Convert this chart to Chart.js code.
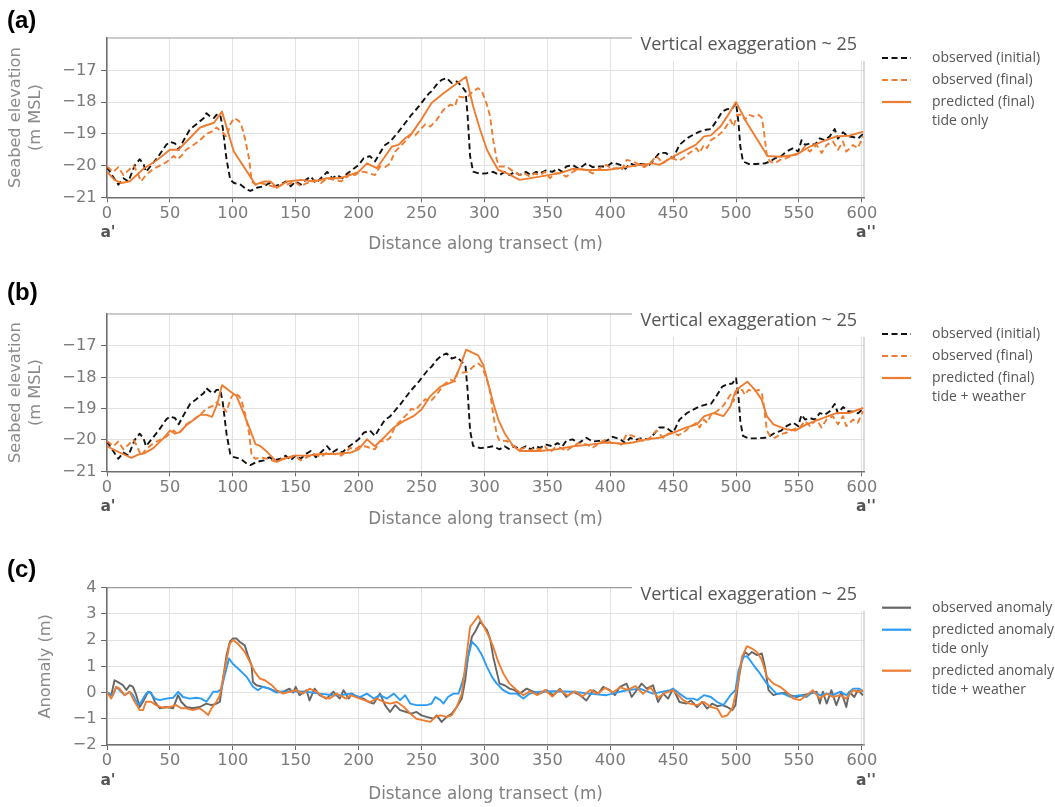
<!DOCTYPE html>
<html>
<head>
<meta charset="utf-8">
<script src="https://cdn.jsdelivr.net/npm/chart.js@4"></script>
<style>
  html, body { margin: 0; padding: 0; background: #fff; }
  #wrap { position: relative; width: 1055px; height: 807px; overflow: hidden; background: #fff; }
  canvas { position: absolute; left: 0; }
</style>
</head>
<body>
<div id="wrap">
  <canvas id="panelA" width="1055" height="275" style="top:0px"></canvas>
  <canvas id="panelB" width="1055" height="275" style="top:275px"></canvas>
  <canvas id="panelC" width="1055" height="257" style="top:550px"></canvas>
</div>
<script>
// ---------- axis ticks ----------
const distTicks = [0, 50, 100, 150, 200, 250, 300, 350, 400, 450, 500, 550, 600];
const elevTicks = [-21, -20, -19, -18, -17];
const anomTicks = [-2, -1, 0, 1, 2, 3, 4];

// ---------- seabed elevation profiles (m MSL) ----------
// observed (initial)
const obsInitX = [0,4,9,13,17,22,26,29,31,35,41,47,50,54,57,61,66,71,77,79,82,85,87,90,92,95,98,101,106,111,114,119,125,129,133,138,142,146,150,154,158,162,166,170,175,179,183,187,191,196,
  200,204,209,213,217,221,225,229,233,237,242,248,253,256,258,262,266,270,274,278,282,285,286.5,288.6,291,296.6,302,307,312,316,320,324,328,333,337,341,344,349,354,358,362,365,370,375,381,386,391,397,
  402,408,412,416,420,424,431,435,439,444,450,455,461,466,471,476,480,485,489,493,497,500,502,503.4,505.5,510,516,523,527,531,536,540,545.5,549.5,552,555,558.7,562.6,566.6,570.5,574.5,578.4,581,585,589,593,597,601];
const obsInitY = [-20.05,-20.3,-20.6,-20.4,-20.5,-20.0,-19.8,-19.95,-20.2,-20.0,-19.7,-19.35,-19.25,-19.3,-19.5,-19.2,-18.85,-18.7,-18.5,-18.35,-18.45,-18.5,-18.4,-18.4,-18.8,-19.8,-20.45,-20.55,-20.6,-20.75,-20.8,-20.7,-20.65,-20.55,-20.65,-20.6,-20.5,-20.65,-20.5,-20.6,-20.45,-20.35,-20.55,-20.4,-20.2,-20.4,-20.3,-20.4,-20.25,-20.1,
  -19.98,-19.77,-19.7,-19.87,-19.6,-19.35,-19.25,-19.06,-18.87,-18.66,-18.4,-18.13,-17.87,-17.72,-17.66,-17.45,-17.3,-17.24,-17.4,-17.35,-17.5,-17.66,-18.35,-19.7,-20.19,-20.26,-20.24,-20.2,-20.3,-20.2,-20.3,-20.2,-20.3,-20.2,-20.3,-20.2,-20.25,-20.15,-20.2,-20.1,-20.2,-20.03,-19.98,-20.1,-19.93,-20.05,-20.03,-20.03,
  -19.9,-19.98,-20.1,-19.93,-20.0,-19.95,-19.98,-19.8,-19.6,-19.6,-19.77,-19.35,-19.14,-19.03,-18.93,-18.87,-18.85,-18.56,-18.3,-18.22,-18.2,-18.03,-18.66,-19.4,-19.87,-19.95,-19.95,-19.93,-19.87,-19.77,-19.7,-19.56,-19.45,-19.56,-19.2,-19.35,-19.3,-19.35,-19.14,-19.2,-19.08,-18.85,-19.15,-18.95,-19.08,-19.1,-19.15,-19.0];

// observed (final)
const obsFinalX = [0,5,9,13,17,21,24,27,31,37,42,47,50,53,56,59,63,67,74,79,85,87,90,93,95,98,101,105,107,110,113,115,118,122,127,131,135,139,143,149,154,159,165,170,175,181,186,191,193,197,
  201,205,209,213,217,221,225,229,233,238,242,245,249,253,257,262,267.5,273,276.7,279,283,287,291,295,298,302,304.5,307,309.8,312,317.7,323,328,332,336,340,344,348,352,356,360,365,370.6,375,381,386,391.8,397,
  401,405,409,413,418,423.5,427,431.5,436.8,442,446,450,454,458,463,468.5,471,474.5,477,480,485,490,495.5,498,500.8,504.7,507,510,514,518,520.5,522,524.5,527,531,535,540,545.5,550.8,554.7,558.7,564,568,572,577,581,585,587.6,593,596.8,601];
const obsFinalY = [-20.03,-20.2,-20.05,-20.3,-20.15,-20.0,-20.2,-20.5,-20.3,-20.1,-20.0,-19.9,-19.8,-19.7,-19.8,-19.7,-19.5,-19.4,-19.2,-19.0,-18.9,-18.8,-18.9,-19.0,-19.1,-18.7,-18.5,-18.6,-18.75,-19.2,-19.8,-20.5,-20.6,-20.55,-20.6,-20.65,-20.7,-20.6,-20.6,-20.5,-20.65,-20.55,-20.45,-20.55,-20.4,-20.45,-20.5,-20.35,-20.25,-20.3,
  -20.2,-20.2,-20.25,-20.3,-20.03,-20.05,-19.93,-19.56,-19.4,-19.2,-19.0,-19.05,-18.87,-18.7,-18.77,-18.56,-18.24,-18.08,-18.13,-17.82,-17.85,-17.82,-17.66,-17.56,-17.66,-18.08,-18.45,-19.2,-19.82,-20.03,-20.03,-20.19,-20.3,-20.25,-20.35,-20.25,-20.3,-20.2,-20.4,-20.25,-20.24,-20.35,-20.19,-20.1,-20.14,-20.25,-20.08,-19.98,
  -20.1,-20.08,-20.15,-19.82,-19.87,-19.98,-20.05,-19.93,-19.7,-19.93,-19.8,-19.77,-19.85,-19.77,-19.6,-19.45,-19.6,-19.35,-19.45,-19.2,-19.08,-18.9,-18.56,-18.77,-18.4,-18.4,-18.56,-18.4,-18.45,-18.4,-18.5,-18.87,-19.7,-19.87,-19.93,-19.82,-19.77,-19.66,-19.6,-19.4,-19.56,-19.35,-19.6,-19.35,-19.24,-19.5,-19.24,-19.56,-19.35,-19.45,-19.08];

// predicted (final), tide only
const predTideX = [0,6,11.5,18,29,39,50,57,63,74,85,91.4,100.7,118,125,130,135,143,154,165,175,185,193,200,206.6,214.5,220,226.5,231.7,237,242,249,258,267.5,276.7,285.4,291,296.6,302,307,311,317.7,328,344,360,370.6,381,397,413,423.5,434,439,450,460.6,468,474.5,480,487.6,493,500,508.7,525,535,548,558.7,569,579.7,590,601];
const predTideY = [-20.2,-20.45,-20.55,-20.5,-20.1,-19.85,-19.5,-19.5,-19.25,-18.8,-18.65,-18.3,-19.55,-20.6,-20.5,-20.5,-20.7,-20.5,-20.45,-20.5,-20.4,-20.4,-20.3,-20.2,-19.93,-20.08,-19.77,-19.4,-19.35,-19.14,-19.0,-18.6,-18.03,-17.72,-17.45,-17.2,-18.13,-18.87,-19.5,-19.87,-20.14,-20.24,-20.45,-20.35,-20.24,-20.1,-20.14,-20.14,-20.05,-19.98,-19.93,-19.98,-19.72,-19.5,-19.35,-19.08,-19.05,-18.77,-18.45,-18.0,-18.66,-19.7,-19.72,-19.66,-19.4,-19.24,-19.08,-19.06,-18.93];

// predicted (final), tide + weather
const predWeatherX = [0,5,10,19.4,24.8,30,36.8,44.8,50,54,58,63,74,79,83.4,87.4,91.4,98,103,108.7,114,118,122,127,135,140.6,148.6,159,170,180.6,194,200,206.6,213,220,228,235.7,243.6,250,257,265,275.4,280.7,285.4,295,299,303,307,311,316.5,323,328,344,357,370.6,384,397,410,418,429,439,450,460.6,469,474.5,482,490,495.5,499.5,503.4,509,515,520.5,524.5,529.7,540,547,556,569,579.7,590,601];
const predWeatherY = [-20.2,-20.3,-20.4,-20.57,-20.47,-20.42,-20.26,-19.95,-19.7,-19.8,-19.75,-19.53,-19.2,-19.2,-19.26,-18.88,-18.25,-18.45,-18.6,-19.15,-19.7,-20.13,-20.2,-20.37,-20.7,-20.6,-20.5,-20.5,-20.45,-20.45,-20.4,-20.3,-19.98,-20.2,-19.93,-19.6,-19.4,-19.24,-19.03,-18.6,-18.3,-18.14,-17.66,-17.12,-17.3,-17.6,-18.2,-18.82,-19.35,-19.82,-20.2,-20.35,-20.35,-20.3,-20.2,-20.15,-20.08,-20.12,-20.08,-19.98,-19.93,-19.77,-19.6,-19.5,-19.25,-19.14,-19.24,-18.93,-18.45,-18.3,-18.14,-18.4,-18.72,-19.24,-19.5,-19.66,-19.7,-19.5,-19.3,-19.14,-19.14,-18.98];

// ---------- anomalies (m) ----------
const anomObsX = [0,3.4,6,8.8,12.7,15.4,18,20.7,23.3,26,28.6,32.6,35,38,42,47,52.5,56.5,59,63,68,73.7,79,83,87,89.7,92.3,95,97.6,100,103,105.6,109.5,112,114.9,116,118.8,124,129,134.7,140,145,148,150,153,158.6,161,165,169,174.5,180,185,188,192,194.7,198.7,
  204,208,212,217,221,225,229,233,238,242,246,250,254,259.5,262,266,270,274,278,282,284.7,287,290,292.6,296.6,299,302,304.5,307,309.8,312,316,320,324,328,333.6,339,344,349.5,354.8,360,365,370.6,376,381,386.5,390.5,394.4,399.7,403.7,407.7,
  413,417,421,425,429,434,438,442,446,450,455,460.6,464,469,473,477,481,485,489,493,497,499.5,502,504.7,507,510,512.6,516.6,520.5,523,525.8,529.7,533.7,539,543,548,553,558.7,564,566.6,569,572,575.8,579.7,583.7,587.6,590,594,596.8,601];
const anomObsY = [0,-0.1,0.47,0.4,0.28,0.1,0.28,0.22,-0.1,-0.55,-0.35,0.03,0,-0.35,-0.6,-0.55,-0.6,-0.1,-0.35,-0.55,-0.6,-0.55,-0.42,-0.48,-0.42,-0.35,0.53,1.42,1.93,2.06,2.06,1.93,1.8,1.42,1.04,0.4,0.28,0.22,0.15,0.03,0.03,0.15,0,0.22,-0.1,0.09,-0.3,0.15,-0.1,-0.23,0.03,-0.23,0.09,-0.23,-0.04,-0.17,
  -0.23,-0.36,-0.42,-0.04,-0.48,-0.74,-0.48,-0.67,-0.74,-0.8,-0.74,-0.87,-0.93,-1.0,-0.87,-1.12,-0.93,-0.8,-0.55,-0.23,0.47,1.36,2.13,2.32,2.7,2.57,2.38,2.06,1.36,0.79,0.34,0.28,0.15,0.09,-0.04,0.15,0.03,-0.04,0.09,-0.1,0.15,-0.17,0.03,-0.1,-0.3,0.09,-0.04,0.22,0.09,-0.1,0.22,
  0.34,-0.17,0.09,0.34,0.15,0.28,-0.36,-0.04,-0.23,0.15,-0.36,-0.42,-0.3,-0.55,-0.36,-0.61,-0.42,-0.52,-0.48,-0.55,-0.67,-0.48,0.47,1.24,1.55,1.43,1.55,1.43,1.49,0.98,0.09,-0.1,-0.04,0,-0.1,-0.17,-0.1,-0.04,0.03,-0.42,0.03,-0.42,0.09,-0.48,0.03,-0.55,0.03,-0.17,0.09,-0.1];

// predicted anomaly, tide only
const anomTideX = [0,4.8,7.4,10,14,18,20.7,24.7,27.3,31,34,38,42,47,52.5,56.5,60.5,65.8,71,75,79,81.7,84.4,88,91,93.6,97,100,105.6,111,116,120,124,129,134.7,140,148,158.6,169,180,185.4,193.6,201,206.6,212,217,222.5,228,233,237,241,246,254,258,261,265,267.5,271,275.4,279.4,
  282,284.7,287,290,294,298,302,306,309.8,315,320,325.7,331,336,344,355,370.6,385,397,405,413,423.5,434,447.6,450,455,460.6,466,469,474.5,480,485,490,495.5,499.5,502,506,508.7,514,519,524.5,532,537.6,543,550.8,556,561,566.6,572,577,582.6,587.6,593,598,601];
const anomTideY = [0,-0.1,0.22,0.09,-0.1,0.03,-0.1,-0.48,-0.35,-0.04,0.03,-0.23,-0.29,-0.23,-0.2,0.03,-0.17,-0.23,-0.2,-0.23,-0.35,-0.17,0.03,0.03,0.15,0.66,1.3,1.1,0.85,0.6,0.22,0.09,0.22,0.15,0,0.03,0.05,0.03,-0.04,-0.1,-0.1,-0.04,-0.17,-0.04,-0.23,-0.1,-0.23,-0.04,-0.29,-0.1,-0.42,-0.48,-0.48,-0.42,-0.17,-0.29,-0.42,-0.17,-0.04,-0.04,
  0.34,0.79,1.36,1.94,1.75,1.43,0.98,0.6,0.34,0.09,-0.04,-0.04,-0.23,-0.04,0.03,0.05,0.03,-0.05,-0.1,0,0.09,0.15,-0.04,0.09,0.15,-0.04,-0.23,-0.23,-0.29,-0.1,-0.17,-0.36,-0.48,-0.1,0.09,0.85,1.36,1.39,1.04,0.73,0.34,-0.04,-0.04,-0.17,-0.1,-0.17,0.03,-0.1,-0.04,-0.1,0.03,-0.1,0.15,0.15,0.03];

// predicted anomaly, tide + weather
const anomWeatherX = [0,3.4,7.4,10,14,18,22,26,28.6,31,35,39,44.5,50,55,59,63,68,73.7,77.7,80.4,83,87,89.7,93.6,97.6,100,104,109.5,113.5,117.5,121.5,125.5,131,134.7,140,145,150.7,156,161,166.6,172,177,182.5,190,193.6,201,209,214.5,220,225,230.6,236,241,246,251.6,257,261,265,270,274,278,282,
  286,288.6,292.6,295,299,303,307,311,315,320,325.7,331,336,342,348,354,360,366,372,378,384,390,396,402,408,414,420,426,432,438,444,450,458,463,469,474.5,480,485,489,493,497,501,504.7,508.7,512.6,516.6,520.5,524.5,529.7,535,540,545.5,550.8,556,561,566.6,572,577,582.6,587.6,593,598,601];
const anomWeatherY = [0,-0.23,0.22,0.15,-0.1,0.03,-0.35,-0.67,-0.67,-0.35,-0.35,-0.48,-0.58,-0.55,-0.48,-0.6,-0.6,-0.67,-0.6,-0.74,-0.86,-0.6,-0.35,-0.1,0.9,1.87,2.0,1.87,1.55,1.17,0.79,0.53,0.47,0.28,0.09,-0.04,0.03,0.09,-0.04,0.15,0.03,-0.17,-0.23,-0.04,-0.23,-0.1,-0.23,-0.36,-0.23,-0.36,-0.42,-0.36,-0.55,-0.8,-1.0,-1.06,-1.12,-0.93,-0.87,-0.93,-0.87,-0.55,-0.04,
  1.49,2.5,2.76,2.92,2.57,2.19,1.75,1.17,0.73,0.34,0.09,-0.1,0.05,-0.1,0.1,-0.15,0.12,-0.12,0.05,-0.15,0.1,-0.05,0.18,0,0.2,0.1,0.25,-0.05,0.2,-0.2,0,0.09,-0.29,-0.42,-0.48,-0.36,-0.55,-0.61,-0.93,-0.87,-0.61,0.22,1.36,1.77,1.68,1.55,1.24,0.6,0.34,0.22,0.03,-0.23,-0.29,-0.1,0.09,-0.23,-0.04,-0.17,-0.1,-0.23,0.09,0.03,0.09];

// ---------- styling ----------
const COL = {
  black: '#111111',
  orange: '#ee7d31',
  gray: '#666666',
  blue: '#2b9cf5'
};
const DASH = [6, 3.5];
const zip = (xs, ys) => xs.map((x, i) => ({ x: x, y: ys[i] }));
const minus = v => String(v).replace('-', '\u2212');

function series(label, xs, ys, color, dash, order) {
  return {
    label: label, data: zip(xs, ys), borderColor: color, borderDash: dash,
    borderWidth: 1.9, pointRadius: 0, tension: 0, fill: false, order: order,
    borderCapStyle: 'butt', borderJoinStyle: 'round'
  };
}

// frame pieces, note, end labels, panel letter and legend
const decor = {
  id: 'decor',
  afterDraw(chart, _args, o) {
    const ctx = chart.ctx, a = chart.chartArea;
    ctx.save();
    ctx.lineWidth = 1.2;
    ctx.strokeStyle = '#9a9a9a';
    ctx.beginPath(); ctx.moveTo(a.left, a.top); ctx.lineTo(a.right, a.top); ctx.stroke();
    ctx.strokeStyle = '#c4c4c4';
    ctx.beginPath(); ctx.moveTo(a.right, a.top); ctx.lineTo(a.right, a.bottom); ctx.stroke();

    ctx.fillStyle = '#ffffff';
    ctx.fillRect(632, a.top - 14, 250, 37);
    ctx.fillStyle = '#555555';
    ctx.font = '18px "Open Sans"';
    ctx.textAlign = 'right'; ctx.textBaseline = 'middle';
    ctx.fillText('Vertical exaggeration ~ 25', 857, a.top + 7);

    ctx.font = 'bold 15.5px "DejaVu Sans"';
    ctx.fillStyle = '#555555';
    ctx.textAlign = 'center';
    ctx.fillText("a'", a.left + 1, a.bottom + 36);
    ctx.fillText("a''", a.right + 2, a.bottom + 36);

    ctx.font = 'bold 24px "Liberation Sans"';
    ctx.fillStyle = '#000000';
    ctx.textAlign = 'left';
    ctx.fillText(o.letter, 7, o.letterY);

    let y = a.top + 20;
    ctx.font = '14px "Open Sans"';
    o.legend.forEach(item => {
      const ds = chart.data.datasets[item.ds];
      ctx.strokeStyle = ds.borderColor;
      ctx.lineWidth = 2.2;
      ctx.setLineDash(ds.borderDash || []);
      ctx.beginPath(); ctx.moveTo(882, y); ctx.lineTo(911, y); ctx.stroke();
      ctx.setLineDash([]);
      ctx.fillStyle = '#555555';
      item.text.forEach((t, k) => ctx.fillText(t, 932, y + k * 19));
      y += 19 * (item.text.length - 1) + 22;
    });
    ctx.restore();
  }
};

function makePanel(id, p) {
  return new Chart(document.getElementById(id), {
    type: 'line',
    data: { datasets: p.datasets },
    plugins: [decor],
    options: {
      responsive: false, animation: false, events: [],
      layout: { padding: { left: 0, right: 191, top: p.top, bottom: p.bottom } },
      plugins: {
        legend: { display: false }, tooltip: { enabled: false },
        decor: { letter: p.letter, letterY: p.letterY, legend: p.legend }
      },
      scales: {
        x: {
          type: 'linear', min: 0, max: 601.7,
          afterBuildTicks: s => { s.ticks = distTicks.map(v => ({ value: v })); },
          afterFit: s => { s.height = p.xh; },
          grid: { color: '#e2e2e2', lineWidth: 1, tickLength: 5, tickColor: '#6a6a6a' },
          border: { display: true, color: '#6f6f6f', width: 1.5 },
          ticks: { color: '#7a7a7a', font: { family: 'DejaVu Sans', size: 16.2 }, padding: 1.5, maxRotation: 0, autoSkip: false },
          title: { display: true, text: 'Distance along transect (m)', color: '#808080',
                   font: { family: 'DejaVu Sans', size: 16.8, lineHeight: 1.2 }, padding: 0 }
        },
        y: {
          type: 'linear', min: p.ymin, max: p.ymax,
          afterBuildTicks: s => { s.ticks = p.yticks.map(v => ({ value: v })); },
          afterFit: s => { s.width = 107; },
          grid: { color: '#e2e2e2', lineWidth: 1, tickLength: 6, tickColor: '#6a6a6a' },
          border: { display: true, color: '#6f6f6f', width: 1.5 },
          ticks: { color: '#7a7a7a', font: { family: 'DejaVu Sans', size: 16.2 }, padding: 4.5, callback: minus },
          title: { display: true, text: p.ytitle, color: '#8a8a8a',
                   font: { family: 'DejaVu Sans', size: 16.2, lineHeight: 1.25 }, padding: { top: p.ytitlePad, bottom: 0 } }
        }
      }
    }
  });
}

makePanel('panelA', {
  top: 38, xh: 57.3, bottom: 20.4, ymin: -21, ymax: -15.98, yticks: elevTicks,
  ytitle: ['Seabed elevation', '(m MSL)'], ytitlePad: 5.5, letter: '(a)', letterY: 21,
  datasets: [
    series('observed (initial)', obsInitX, obsInitY, COL.black, DASH, 3),
    series('observed (final)', obsFinalX, obsFinalY, COL.orange, DASH, 2),
    series('predicted (final)', predTideX, predTideY, COL.orange, [], 1)
  ],
  legend: [{ ds: 0, text: ['observed (initial)'] }, { ds: 1, text: ['observed (final)'] },
           { ds: 2, text: ['predicted (final)', 'tide only'] }]
});

makePanel('panelB', {
  top: 39, xh: 58.3, bottom: 20.4, ymin: -21, ymax: -15.98, yticks: elevTicks,
  ytitle: ['Seabed elevation', '(m MSL)'], ytitlePad: 5.5, letter: '(b)', letterY: 18,
  datasets: [
    series('observed (initial)', obsInitX, obsInitY, COL.black, DASH, 3),
    series('observed (final)', obsFinalX, obsFinalY, COL.orange, DASH, 2),
    series('predicted (final)', predWeatherX, predWeatherY, COL.orange, [], 1)
  ],
  legend: [{ ds: 0, text: ['observed (initial)'] }, { ds: 1, text: ['observed (final)'] },
           { ds: 2, text: ['predicted (final)', 'tide + weather'] }]
});

makePanel('panelC', {
  top: 37.7, xh: 59.6, bottom: 2.4, ymin: -2, ymax: 4, yticks: anomTicks,
  ytitle: 'Anomaly (m)', ytitlePad: 36, letter: '(c)', letterY: 20,
  datasets: [
    series('observed anomaly', anomObsX, anomObsY, COL.gray, [], 3),
    series('predicted anomaly tide only', anomTideX, anomTideY, COL.blue, [], 2),
    series('predicted anomaly tide + weather', anomWeatherX, anomWeatherY, COL.orange, [], 1)
  ],
  legend: [{ ds: 0, text: ['observed anomaly'] }, { ds: 1, text: ['predicted anomaly', 'tide only'] },
           { ds: 2, text: ['predicted anomaly', 'tide + weather'] }]
});
</script>
</body>
</html>
